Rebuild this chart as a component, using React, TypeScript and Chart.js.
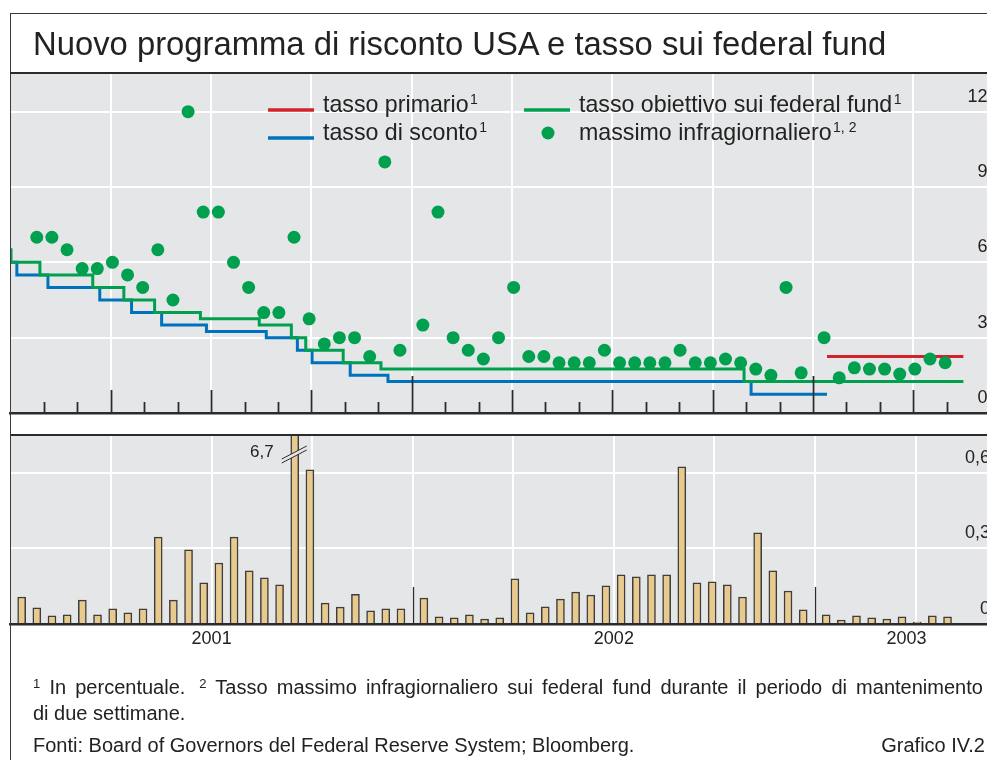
import React, { useEffect, useRef } from "react";
import { Chart, registerables } from "chart.js";

Chart.register(...registerables);

const FONT = '"Liberation Sans", Arial, Helvetica, sans-serif';

// ---------- data ----------
// x axis unit: months since 1 January 2001
const X_MAX = 29.4;
const yearLabels = ["2001", "2002", "2003"];
const yearLabelAt = [6, 18, 26.73];

// two-week reserve maintenance periods (one entry per period, per year)
const PERIOD_OFFSET = 0.333;
const PERIOD_STEP = 0.4526;

// borrowed reserves, USD bn
const borrowed2001 = [0.107, 0.064, 0.032, 0.036, 0.095, 0.036, 0.06, 0.044, 0.06, 0.345, 0.095, 0.294, 0.163, 0.242, 0.345, 0.211, 0.183, 0.155, 6.7, 0.612, 0.083, 0.067, 0.118, 0.052, 0.06, 0.06];
const borrowed2002 = [0.103, 0.028, 0.024, 0.036, 0.02, 0.024, 0.179, 0.044, 0.068, 0.099, 0.127, 0.115, 0.151, 0.195, 0.187, 0.195, 0.195, 0.624, 0.163, 0.167, 0.155, 0.107, 0.362, 0.211, 0.131, 0.056];
const borrowed2003 = [0.036, 0.016, 0.032, 0.024, 0.02, 0.028, 0.008, 0.032, 0.028];

// intraday maximum federal funds rate, %
const intradayMax2001 = [null, 7.0, 7.0, 6.5, 5.75, 5.75, 6.0, 5.5, 5.0, 6.5, 4.5, 12.0, 8.0, 8.0, 6.0, 5.0, 4.0, 4.0, 7.0, 3.75, 2.75, 3.0, 3.0, 2.25, 10.0, 2.5];
const intradayMax2002 = [3.5, 8.0, 3.0, 2.5, 2.15, 3.0, 5.0, 2.25, 2.25, 2.0, 2.0, 2.0, 2.5, 2.0, 2.0, 2.0, 2.0, 2.5, 2.0, 2.0, 2.15, 2.0, 1.75, 1.5, 5.0, 1.6];
const intradayMax2003 = [3.0, 1.4, 1.8, 1.75, 1.75, 1.55, 1.75, 2.15, 2.0];

// step series: month at which each level starts, and the level (%)
const targetStart = [0, 0.015, 0.88, 2.46, 3.39, 4.31, 5.68, 7.44, 8.4, 8.83, 9.95, 11.08, 21.94, 28.5];
const targetRate = [6.5, 6.0, 5.5, 5.0, 4.5, 4.0, 3.75, 3.5, 3.0, 2.5, 2.0, 1.75, 1.25, 1.25];
const discountStart = [0, 0.19, 1.12, 2.67, 3.62, 4.52, 5.86, 7.65, 8.58, 9.02, 10.16, 11.29, 22.15, 24.42];
const discountRate = [6.0, 5.5, 5.0, 4.5, 4.0, 3.5, 3.25, 3.0, 2.5, 2.0, 1.5, 1.25, 0.75, 0.75];
const primaryStart = [24.42, 28.5];
const primaryRate = [2.25, 2.25];

const rateTicks = [0, 3, 6, 9, 12];
const reserveTicks = [0, 0.3, 0.6];

// ---------- styles ----------
const GREEN = "#00a04f";
const BLUE = "#0072bc";
const RED = "#d2232a";
const PANEL = "#e5e6e8";
const TAN = "#e8c98e";
const DARK = "#2b2b2b";
const TEXT = "#222";

function periodPoints(yearIdx: number, values: (number | null)[]) {
  return values
    .map((v, i) => ({ x: yearIdx * 12 + PERIOD_OFFSET + i * PERIOD_STEP, y: v }))
    .filter((p) => p.y !== null);
}
function stepPoints(starts: number[], levels: number[]) {
  return starts.map((s, i) => ({ x: s, y: levels[i] }));
}

const quarterTicks = Array.from({ length: 9 }, (_, i) => (i + 1) * 3);

function supText(ctx: CanvasRenderingContext2D, x: number, base: number, main: string, sup: string, size: number) {
  ctx.font = `${size}px ${FONT}`;
  ctx.fillStyle = TEXT;
  ctx.textAlign = "left";
  ctx.textBaseline = "alphabetic";
  ctx.fillText(main, x, base);
  const w = ctx.measureText(main).width;
  if (sup) {
    ctx.font = `${Math.round(size * 0.62)}px ${FONT}`;
    ctx.fillText(sup, x + w + 1.5, base - size * 0.36);
  }
}

const panelBg = {
  id: "panelBg",
  beforeDraw(chart: any) {
    const { ctx, chartArea: a } = chart;
    ctx.save();
    ctx.fillStyle = PANEL;
    ctx.fillRect(a.left, a.top, a.right - a.left, a.bottom - a.top);
    ctx.restore();
  },
};

const topExtras = {
  id: "topExtras",
  afterDraw(chart: any) {
    const { ctx, chartArea: a } = chart;
    const xs = chart.scales.x;
    ctx.save();
    // inward tick marks: months, quarters, years
    ctx.strokeStyle = DARK;
    ctx.lineWidth = 1.8;
    for (let m = 1; m <= 28; m++) {
      const len = m % 12 === 0 ? 37 : m % 3 === 0 ? 23 : 11;
      const px = Math.round(xs.getPixelForValue(m)) + 0.5;
      ctx.beginPath();
      ctx.moveTo(px, a.bottom);
      ctx.lineTo(px, a.bottom - len);
      ctx.stroke();
    }
    // legend
    ctx.lineWidth = 3.5;
    ctx.lineCap = "butt";
    ctx.strokeStyle = RED;
    ctx.beginPath(); ctx.moveTo(268, 110); ctx.lineTo(314, 110); ctx.stroke();
    ctx.strokeStyle = BLUE;
    ctx.beginPath(); ctx.moveTo(268, 138); ctx.lineTo(314, 138); ctx.stroke();
    ctx.strokeStyle = GREEN;
    ctx.beginPath(); ctx.moveTo(524, 110); ctx.lineTo(570, 110); ctx.stroke();
    ctx.fillStyle = GREEN;
    ctx.beginPath(); ctx.arc(548, 133, 6.5, 0, Math.PI * 2); ctx.fill();
    supText(ctx, 323, 112, "tasso primario", "1", 23.2);
    supText(ctx, 323, 140, "tasso di sconto", "1", 23.2);
    supText(ctx, 579, 112, "tasso obiettivo sui federal fund", "1", 23.2);
    supText(ctx, 579, 140, "massimo infragiornaliero", "1, 2", 23.2);
    ctx.restore();
  },
};

const bottomExtras = {
  id: "bottomExtras",
  afterDraw(chart: any) {
    const { ctx, chartArea: a } = chart;
    const xs = chart.scales.x;
    ctx.save();
    // top border of panel
    ctx.strokeStyle = DARK;
    ctx.lineWidth = 2;
    ctx.beginPath(); ctx.moveTo(a.left, a.top); ctx.lineTo(a.right, a.top); ctx.stroke();
    // year ticks
    ctx.lineWidth = 1.3;
    [12, 24].forEach((m) => {
      const px = Math.round(xs.getPixelForValue(m)) + 0.5;
      ctx.beginPath(); ctx.moveTo(px, a.bottom); ctx.lineTo(px, a.bottom - 37); ctx.stroke();
    });
    // break mark on the off-scale bar
    const idx = borrowed2001.findIndex((v) => v > 0.75);
    const cx = xs.getPixelForValue(PERIOD_OFFSET + idx * PERIOD_STEP);
    ctx.fillStyle = PANEL;
    ctx.beginPath();
    ctx.moveTo(cx - 13, a.top + 24);
    ctx.lineTo(cx + 12, a.top + 11);
    ctx.lineTo(cx + 12, a.top + 15);
    ctx.lineTo(cx - 13, a.top + 28);
    ctx.closePath();
    ctx.fill();
    ctx.strokeStyle = DARK;
    ctx.lineWidth = 1;
    ctx.beginPath(); ctx.moveTo(cx - 13, a.top + 24); ctx.lineTo(cx + 12, a.top + 11); ctx.stroke();
    ctx.beginPath(); ctx.moveTo(cx - 13, a.top + 28); ctx.lineTo(cx + 12, a.top + 15); ctx.stroke();
    ctx.font = `17px ${FONT}`;
    ctx.fillStyle = TEXT;
    ctx.textAlign = "right";
    ctx.textBaseline = "middle";
    ctx.fillText(String(borrowed2001[idx]).replace(".", ","), cx - 21, a.top + 17);
    // legend
    ctx.fillStyle = TAN;
    ctx.fillRect(366, 459, 46, 14);
    ctx.strokeStyle = DARK;
    ctx.lineWidth = 1.5;
    ctx.strokeRect(366, 459, 46, 14);
    supText(ctx, 422, 473, "riserve mutuate", "", 23.2);
    supText(ctx, 422, 496, "(mdi di $USA)", "", 23.2);
    ctx.restore();
  },
};

export default function App() {
  const topRef = useRef<HTMLCanvasElement>(null);
  const botRef = useRef<HTMLCanvasElement>(null);

  useEffect(() => {
    document.body.style.margin = "0";
    const common = {
      responsive: false,
      maintainAspectRatio: false,
      animation: false,
      devicePixelRatio: 1,
      events: [],
      plugins: { legend: { display: false }, tooltip: { enabled: false } },
    };
    const topChart = new Chart(topRef.current as HTMLCanvasElement, {
      type: "line",
      data: {
        datasets: [
          {
            label: "massimo infragiornaliero",
            data: [
              ...periodPoints(0, intradayMax2001),
              ...periodPoints(1, intradayMax2002),
              ...periodPoints(2, intradayMax2003),
            ],
            showLine: false,
            pointRadius: 6.5,
            pointBackgroundColor: GREEN,
            pointBorderWidth: 0,
            order: 0,
          },
          {
            label: "tasso primario",
            data: stepPoints(primaryStart, primaryRate),
            stepped: true,
            borderColor: RED,
            borderWidth: 3,
            pointRadius: 0,
            order: 1,
          },
          {
            label: "tasso obiettivo sui federal fund",
            data: stepPoints(targetStart, targetRate),
            stepped: true,
            borderColor: GREEN,
            borderWidth: 3,
            pointRadius: 0,
            order: 2,
          },
          {
            label: "tasso di sconto",
            data: stepPoints(discountStart, discountRate),
            stepped: true,
            borderColor: BLUE,
            borderWidth: 3,
            pointRadius: 0,
            order: 3,
          },
        ],
      },
      options: {
        ...common,
        layout: { padding: { left: 10.5, right: 4, top: 74, bottom: 20 } },
        scales: {
          x: {
            type: "linear",
            min: 0,
            max: X_MAX,
            afterBuildTicks: (s: any) => { s.ticks = quarterTicks.map((v) => ({ value: v })); },
            afterFit: (s: any) => { s.height = 0; },
            ticks: { display: false },
            grid: { color: "#ffffff", lineWidth: 2, drawTicks: false },
            border: { display: true, color: DARK, width: 2.5 },
          },
          y: {
            type: "linear",
            position: "right",
            min: 0,
            max: 13.5,
            afterBuildTicks: (s: any) => { s.ticks = rateTicks.map((v) => ({ value: v })); },
            afterFit: (s: any) => { s.width = 0; },
            ticks: {
              mirror: true,
              padding: -6,
              labelOffset: -15,
              color: TEXT,
              font: { family: FONT, size: 18 },
              callback: (v: any) => String(v),
            },
            grid: {
              color: (c: any) => (c.tick && c.tick.value === 0 ? "rgba(0,0,0,0)" : "#ffffff"),
              lineWidth: 2,
              drawTicks: false,
            },
            border: { display: false },
          },
        },
      } as any,
      plugins: [panelBg, topExtras],
    } as any);

    const botChart = new Chart(botRef.current as HTMLCanvasElement, {
      type: "bar",
      data: {
        datasets: [
          {
            label: "riserve mutuate (mdi di $USA)",
            data: [
              ...periodPoints(0, borrowed2001),
              ...periodPoints(1, borrowed2002),
              ...periodPoints(2, borrowed2003),
            ],
            backgroundColor: TAN,
            borderColor: "#3d3d3d",
            borderWidth: 1.5,
            borderSkipped: "start",
            barThickness: 8,
            grouped: false,
            clip: 0,
          },
        ],
      },
      options: {
        ...common,
        layout: { padding: { left: 10.5, right: 4, top: 20, bottom: 6 } },
        scales: {
          x: {
            type: "linear",
            min: 0,
            max: X_MAX,
            offset: false,
            weight: 0,
            afterBuildTicks: (s: any) => { s.ticks = quarterTicks.map((v) => ({ value: v })); },
            afterFit: (s: any) => { s.height = 0; },
            ticks: { display: false },
            grid: { color: "#ffffff", lineWidth: 2, drawTicks: false, offset: false },
            border: { display: true, color: DARK, width: 2.5 },
          },
          xYear: {
            type: "linear",
            position: "bottom",
            min: 0,
            max: X_MAX,
            offset: false,
            weight: 1,
            afterBuildTicks: (s: any) => { s.ticks = yearLabelAt.map((v) => ({ value: v })); },
            afterFit: (s: any) => { s.height = 30; },
            ticks: {
              padding: 4,
              maxRotation: 0,
              autoSkip: false,
              color: TEXT,
              font: { family: FONT, size: 18 },
              callback: (v: any) => yearLabels[yearLabelAt.indexOf(v)] ?? "",
            },
            grid: { display: false, drawTicks: false },
            border: { display: false },
          },
          y: {
            type: "linear",
            position: "right",
            min: 0,
            max: 0.75,
            afterBuildTicks: (s: any) => { s.ticks = reserveTicks.map((v) => ({ value: v })); },
            afterFit: (s: any) => { s.width = 0; },
            ticks: {
              mirror: true,
              padding: -6,
              labelOffset: -15,
              color: TEXT,
              font: { family: FONT, size: 18 },
              callback: (v: any) => (v === 0 ? "0" : Number(v).toFixed(1).replace(".", ",")),
            },
            grid: {
              color: (c: any) => (c.tick && c.tick.value === 0 ? "rgba(0,0,0,0)" : "#ffffff"),
              lineWidth: 2,
              drawTicks: false,
            },
            border: { display: false },
          },
        },
      } as any,
      plugins: [panelBg, bottomExtras],
    } as any);

    return () => {
      topChart.destroy();
      botChart.destroy();
    };
  }, []);

  const sup: React.CSSProperties = { fontSize: "0.65em", position: "relative", top: "-0.45em" };

  return (
    <div
      style={{
        position: "fixed",
        left: 0,
        top: 0,
        width: 987,
        height: 760,
        overflow: "hidden",
        background: "#fff",
        fontFamily: FONT,
        color: TEXT,
      }}
    >
      <canvas ref={topRef} width={1000} height={433} style={{ position: "absolute", left: 0, top: 0, width: 1000, height: 433 }} />
      <canvas ref={botRef} width={1000} height={245} style={{ position: "absolute", left: 0, top: 415, width: 1000, height: 245 }} />
      <div
        style={{
          position: "absolute",
          left: 9.5,
          top: 12.5,
          width: 1100,
          height: 900,
          borderLeft: "1.5px solid #3a3a3a",
          borderTop: "1.5px solid #3a3a3a",
          pointerEvents: "none",
        }}
      />
      <div style={{ position: "absolute", left: 10, top: 72, width: 1000, height: 2, background: DARK }} />
      <div style={{ position: "absolute", left: 33, top: 28, fontSize: 32.8, lineHeight: "32px", whiteSpace: "nowrap" }}>
        Nuovo programma di risconto USA e tasso sui federal fund
      </div>
      <div style={{ position: "absolute", left: 33, top: 677, fontSize: 20, lineHeight: "20px", whiteSpace: "nowrap", wordSpacing: "3.6px" }}>
        <span style={sup}>1</span> In percentuale.
        <span style={{ display: "inline-block", width: 14 }} />
        <span style={sup}>2</span> Tasso massimo infragiornaliero sui federal fund durante il periodo di mantenimento
      </div>
      <div style={{ position: "absolute", left: 33, top: 703, fontSize: 20, lineHeight: "20px", whiteSpace: "nowrap" }}>
        di due settimane.
      </div>
      <div style={{ position: "absolute", left: 33, top: 735, fontSize: 20, lineHeight: "20px", whiteSpace: "nowrap" }}>
        Fonti: Board of Governors del Federal Reserve System; Bloomberg.
      </div>
      <div style={{ position: "absolute", right: 2, top: 735, fontSize: 20, lineHeight: "20px", whiteSpace: "nowrap" }}>
        Grafico IV.2
      </div>
    </div>
  );
}
